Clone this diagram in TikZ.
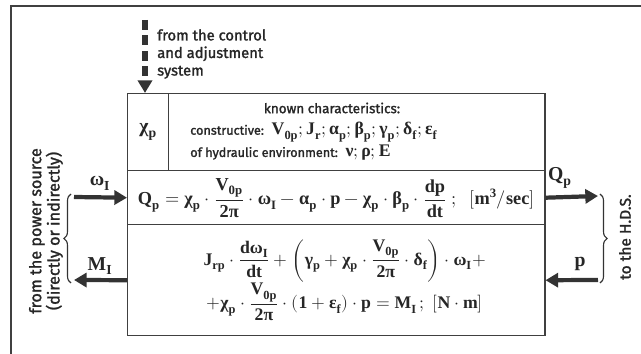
\documentclass[tikz,border=0pt]{standalone}
\usepackage{amsmath}
\usepackage[math-style=upright]{unicode-math}
\setmainfont{Fira Sans}[FakeBold=1.6]
\setmathfont{Latin Modern Math}
\setmathfont{Liberation Serif Bold}[range={up/{latin,Latin,greek,Greek,num}}]
\usetikzlibrary{positioning, arrows.meta, decorations.pathreplacing}

\begin{document}
\begin{tikzpicture}[x=0.025cm, y=-0.025cm]
      % Define styles for nodes
      \tikzset{
        cell/.style={rectangle, draw=black!75, line width=1pt, inner sep=0pt, anchor=north west},
        eqn/.style={font=\fontsize{12.6}{22}\selectfont, text=black!85, align=center},
        biglabel/.style={font=\fontsize{14}{16}\selectfont, text=black!85},
        annotation/.style={font=\fontsize{10.5}{12.5}\selectfont, text=black!85, inner sep=0pt},
        flow/.style={draw=black!80, line width=3pt, -{Triangle[length=9pt, width=10pt]}},
        hbrace/.style={draw=black!80, line width=0.8pt, decorate, decoration={brace, amplitude=5pt}}
      }
      \useasboundingbox (0,0) rectangle (641,354);
      \draw[black!75, line width=1.2pt] (11,354) -- (11,6) -- (641,6);

      % Create the block with its rows
      \node[cell, minimum width=1.025cm, minimum height=1.925cm] (chi) at (127,93) {};
      \node[cell, minimum width=9.4cm, minimum height=1.925cm] (known) at (168,93) {};
      \node[cell, minimum width=10.425cm, minimum height=1.35cm] (qrow) at (127,170) {};
      \node[cell, minimum width=10.425cm, minimum height=2.775cm] (mrow) at (127,224) {};

      % Texts inside the rows
      \node[biglabel] (chilabel) at (chi.center) {$\chi_{p}$};
      \node[annotation, font=\fontsize{9.6}{12.5}\selectfont] (knowntitle) at (332,108) {known characteristics:};
      \node[annotation, anchor=west, font=\fontsize{9}{12}\selectfont] (constr) at (190,132)
        {constructive: \ {\fontsize{12.6}{14}\selectfont$V_{0p};J_{r};\alpha_{p};\beta_{p};\gamma_{p};\delta_{f};\varepsilon_{f}$}};
      \node[annotation, anchor=west, font=\fontsize{9}{12}\selectfont] (hydr) at (190,153)
        {of hydraulic environment: \ {\fontsize{12.6}{14}\selectfont$\nu;\rho;E$}};
      \node[eqn, font=\fontsize{13}{22}\selectfont] (qeq) at (qrow.center)
        {$Q_{p}=\chi_{p}\cdot\dfrac{V_{0p}}{2\pi}\cdot\omega_{I}-\alpha_{p}\cdot p-\chi_{p}\cdot\beta_{p}\cdot\dfrac{dp}{dt}\ ;\ \ [m^{3}/sec]$};
      \node[eqn] (meq) at ([xshift=6]mrow.center)
        {$J_{rp}\cdot\dfrac{d\omega_{I}}{dt}+\left(\gamma_{p}+\chi_{p}\cdot\dfrac{V_{0p}}{2\pi}\cdot\delta_{f}\right)\cdot\omega_{I}+$\\
         $+\chi_{p}\cdot\dfrac{V_{0p}}{2\pi}\cdot(1+\varepsilon_{f})\cdot p=M_{I}\,;\ [N\cdot m]$};

      % Free ends of the connectors
      \coordinate (ctrl) at (145,20);
      \coordinate (win) at (74,197);
      \coordinate (mout) at (74,280);
      \coordinate (qout) at (598,196);
      \coordinate (pin) at (598,280);

      % Draw the connectors
      \draw[flow, line width=4pt, dash pattern=on 7pt off 4pt] (ctrl) -- (ctrl |- chi.north);
      \draw[flow] (win) -- (qrow.west);
      \draw[flow] (mrow.west) -- (mout);
      \draw[flow] (qrow.east) -- (qout);
      \draw[flow] (pin) -- (mrow.east);
      \draw[hbrace] (71,283) -- (71,194);
      \draw[hbrace] (600,194) -- (600,283);

      % Add annotations next to the connectors
      \node[annotation, anchor=west, align=left] (ctrltext) at (157,54) {from the control\\and adjustment\\system};
      \node[annotation, rotate=90, align=center, font=\fontsize{11.5}{13}\selectfont] (powertext) at (46,231) {from the power source\\(directly or indirectly)};
      \node[annotation, rotate=90, font=\fontsize{11}{13}\selectfont] (hdstext) at (625,237) {to the H.D.S.};
      \node[biglabel] (wlabel) at (100,183) {$\omega_{I}$};
      \node[biglabel] (mlabel) at (100,266) {$M_{I}$};
      \node[biglabel] (qlabel) at (560,178) {$Q_{p}$};
      \node[biglabel] (plabel) at (580,264) {$p$};
    \end{tikzpicture}
\end{document}
